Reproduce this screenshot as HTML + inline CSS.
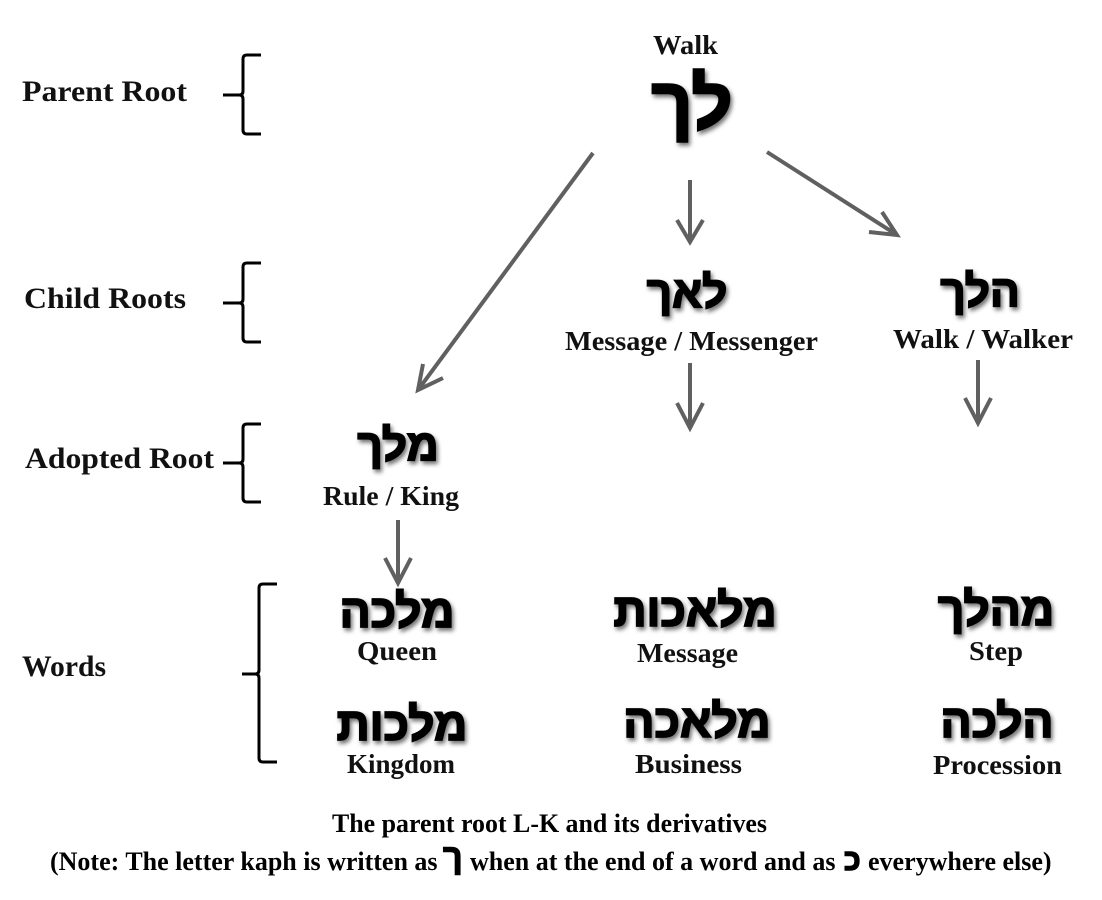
<!DOCTYPE html>
<html><head><meta charset="utf-8"><style>
html,body{margin:0;padding:0;background:#fff;}
svg{display:block;}
.lab{font-family:"Liberation Serif",serif;font-weight:bold;font-size:30px;fill:#111;}
.en{font-family:"Liberation Serif",serif;font-weight:bold;font-size:27px;fill:#111;}
.cap{font-family:"Liberation Serif",serif;font-weight:bold;font-size:26px;fill:#000;}
.he{font-family:"Liberation Sans","DejaVu Sans",sans-serif;font-weight:bold;fill:#000;stroke:#000;stroke-width:1.8;}
.hk{font-family:"Liberation Sans","DejaVu Sans",sans-serif;font-weight:bold;fill:#000;stroke:#000;stroke-width:1.4;}
.br{fill:none;stroke:#000;stroke-width:3;stroke-linejoin:round;}
.ar{fill:none;stroke:#606060;stroke-width:4;stroke-linecap:butt;stroke-linejoin:miter;}
</style></head><body>
<svg width="1102" height="900" viewBox="0 0 1102 900" xmlns="http://www.w3.org/2000/svg">
<defs>
<filter id="sh" x="-20%" y="-20%" width="140%" height="150%">
<feDropShadow dx="2" dy="3" stdDeviation="2" flood-color="#000" flood-opacity="0.55"/>
</filter>
</defs>
<rect width="1102" height="900" fill="#fff"/>

<!-- left labels -->
<text class="lab" x="22" y="101" textLength="165" lengthAdjust="spacingAndGlyphs">Parent Root</text>
<text class="lab" x="24" y="308" textLength="162" lengthAdjust="spacingAndGlyphs">Child Roots</text>
<text class="lab" x="25" y="468" textLength="189" lengthAdjust="spacingAndGlyphs">Adopted Root</text>
<text class="lab" x="22" y="676" textLength="84" lengthAdjust="spacingAndGlyphs">Words</text>

<!-- brackets -->
<path class="br" d="M261,55 L247,55 Q243,55 243,59 L243,91 Q243,95 239,95 L223,95 M239,95 Q243,95 243,99 L243,130 Q243,134 247,134 L261,134"/>
<path class="br" d="M261,263 L247,263 Q243,263 243,267 L243,299 Q243,303 239,303 L223,303 M239,303 Q243,303 243,307 L243,338 Q243,342 247,342 L261,342"/>
<path class="br" d="M261,424 L247,424 Q243,424 243,428 L243,459 Q243,463 239,463 L223,463 M239,463 Q243,463 243,467 L243,498 Q243,502 247,502 L261,502"/>
<path class="br" d="M277,584 L263,584 Q259,584 259,588 L259,670 Q259,674 255,674 L242,674 M255,674 Q259,674 259,678 L259,758 Q259,762 263,762 L277,762"/>

<!-- arrows -->
<path class="ar" d="M593,153 L418,390 M423,364 L418,390 L443,378"/>
<path class="ar" d="M690,180 L690,242 M677,220 L690,242 L703,220"/>
<path class="ar" d="M767,152 L897,235 M869,232 L897,235 L882,212"/>
<path class="ar" d="M690,363 L690,428 M677,403 L690,428 L703,403"/>
<path class="ar" d="M978,360 L978,423 M965,398 L978,423 L991,398"/>
<path class="ar" d="M398,520 L398,583 M385,558 L398,583 L411,558"/>

<!-- top -->
<text class="en" x="685.5" y="54" text-anchor="middle" textLength="65" lengthAdjust="spacingAndGlyphs">Walk</text>
<g filter="url(#sh)">
<text class="he" x="692" y="128" font-size="72" text-anchor="middle" direction="rtl" style="stroke-width:2.4">לך</text>
<text class="he" x="687" y="307" font-size="44" text-anchor="middle" direction="rtl">לאך</text>
<text class="he" x="980" y="306" font-size="44" text-anchor="middle" direction="rtl">הלך</text>
<text class="he" x="398" y="460" font-size="44" text-anchor="middle" direction="rtl">מלך</text>
<text class="he" x="397" y="627" font-size="46" text-anchor="middle" direction="rtl">מלכה</text>
<text class="he" x="695" y="626" font-size="46" text-anchor="middle" direction="rtl">מלאכות</text>
<text class="he" x="996" y="625" font-size="46" text-anchor="middle" direction="rtl">מהלך</text>
<text class="he" x="402" y="740" font-size="46" text-anchor="middle" direction="rtl">מלכות</text>
<text class="he" x="697" y="737" font-size="46" text-anchor="middle" direction="rtl">מלאכה</text>
<text class="he" x="997" y="737" font-size="46" text-anchor="middle" direction="rtl">הלכה</text>
</g>

<!-- english labels -->
<text class="en" x="691.5" y="350" text-anchor="middle" textLength="253" lengthAdjust="spacingAndGlyphs">Message / Messenger</text>
<text class="en" x="983" y="348" text-anchor="middle" textLength="180" lengthAdjust="spacingAndGlyphs">Walk / Walker</text>
<text class="en" x="391" y="505" text-anchor="middle" textLength="136" lengthAdjust="spacingAndGlyphs">Rule / King</text>
<text class="en" x="397" y="660" text-anchor="middle" textLength="80" lengthAdjust="spacingAndGlyphs">Queen</text>
<text class="en" x="687.5" y="662" text-anchor="middle" textLength="101" lengthAdjust="spacingAndGlyphs">Message</text>
<text class="en" x="996" y="660" text-anchor="middle" textLength="54" lengthAdjust="spacingAndGlyphs">Step</text>
<text class="en" x="401" y="773" text-anchor="middle" textLength="108" lengthAdjust="spacingAndGlyphs">Kingdom</text>
<text class="en" x="688.5" y="773" text-anchor="middle" textLength="107" lengthAdjust="spacingAndGlyphs">Business</text>
<text class="en" x="997.5" y="774" text-anchor="middle" textLength="129" lengthAdjust="spacingAndGlyphs">Procession</text>

<!-- captions -->
<text class="cap" x="549.5" y="832" text-anchor="middle" textLength="435" lengthAdjust="spacingAndGlyphs">The parent root L-K and its derivatives</text>
<text class="cap" x="50" y="870">(Note: The letter kaph is written as</text>
<text class="hk" x="443" y="868" font-size="34">ך</text>
<text class="cap" x="470" y="870">when at the end of a word and as</text>
<text class="hk" x="844" y="870" font-size="30">כ</text>
<text class="cap" x="868" y="870">everywhere else)</text>
</svg>
</body></html>
